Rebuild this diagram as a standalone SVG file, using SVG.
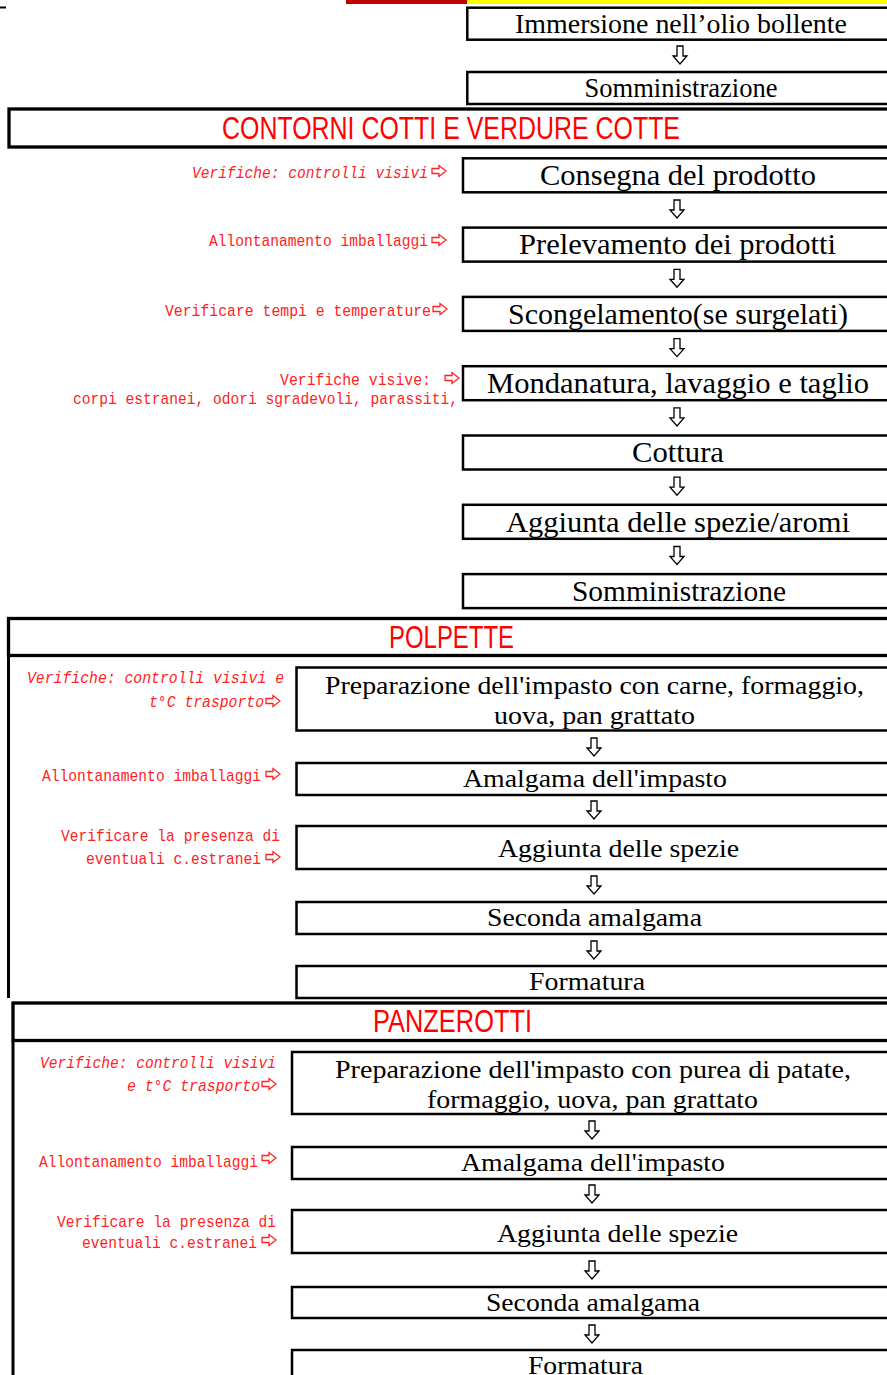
<svg xmlns="http://www.w3.org/2000/svg" xmlns:xlink="http://www.w3.org/1999/xlink" width="887" height="1375" viewBox="0 0 887 1375">
<style>
.box{fill:#fff;stroke:#000;stroke-width:2.5}
.hdr{fill:none;stroke:#000;stroke-width:3.3}
.vl{stroke:#000;stroke-width:3}
.t{font-family:"Liberation Serif","Times New Roman",serif;fill:#000;text-anchor:middle}
.s1{font-size:27px}.s2{font-size:29px}.s3{font-size:26px}
.h{font-family:"Liberation Sans",Arial,sans-serif;fill:#f00;text-anchor:middle;font-size:31px}
.l{font-family:"Liberation Mono","DejaVu Sans Mono",monospace;fill:#f22;font-size:17px}
.i{font-style:italic}
</style>
<defs>
<path id="da" d="M-3,0H3V10H7L0,18L-7,10H-3Z" fill="#fff" stroke="#000" stroke-width="1.3"/>
<path id="ra" d="M0,-2.5H7V-5.5L14,0L7,5.5V2.5H0Z" fill="#fff" stroke="#f22" stroke-width="1.3"/>
</defs>
<rect x="346" y="0" width="121" height="4" fill="#c00000"/>
<rect x="467" y="0" width="420" height="4" fill="#ffff00"/>
<rect x="0" y="6.5" width="6" height="2" fill="#000"/>

<g id="sec1">
<g id="n-immersione"><rect class="box" x="467.3" y="7.7" width="440" height="32"/><text class="t s1" x="681" y="33" textLength="332" lengthAdjust="spacingAndGlyphs">Immersione nell’olio bollente</text></g>
<g id="n-somm1"><rect class="box" x="467.3" y="72" width="440" height="32"/><text class="t s1" x="681" y="97" textLength="193" lengthAdjust="spacingAndGlyphs">Somministrazione</text></g>
</g>

<g id="h-contorni"><rect class="hdr" x="9" y="109" width="900" height="38"/><text class="h" x="451" y="139" textLength="458" lengthAdjust="spacingAndGlyphs">CONTORNI COTTI E VERDURE COTTE</text></g>

<g id="sec2">
<g id="n-consegna"><rect class="box" x="463" y="158.3" width="440" height="34"/><text class="t s2" x="678" y="185" textLength="276" lengthAdjust="spacingAndGlyphs">Consegna del prodotto</text></g>
<g id="n-prelevamento"><rect class="box" x="463" y="227.6" width="440" height="34"/><text class="t s2" x="677.5" y="254.3" textLength="317" lengthAdjust="spacingAndGlyphs">Prelevamento dei prodotti</text></g>
<g id="n-scongelamento"><rect class="box" x="463" y="296.9" width="440" height="34"/><text class="t s2" x="678" y="323.6" textLength="340" lengthAdjust="spacingAndGlyphs">Scongelamento(se surgelati)</text></g>
<g id="n-mondanatura"><rect class="box" x="463" y="366.2" width="440" height="34"/><text class="t s2" x="678" y="392.9" textLength="382" lengthAdjust="spacingAndGlyphs">Mondanatura, lavaggio e taglio</text></g>
<g id="n-cottura"><rect class="box" x="463" y="435.5" width="440" height="34"/><text class="t s2" x="678" y="462.2" textLength="92" lengthAdjust="spacingAndGlyphs">Cottura</text></g>
<g id="n-aggiunta1"><rect class="box" x="463" y="504.8" width="440" height="34"/><text class="t s2" x="678" y="531.5" textLength="344" lengthAdjust="spacingAndGlyphs">Aggiunta delle spezie/aromi</text></g>
<g id="n-somm2"><rect class="box" x="463" y="574.1" width="440" height="34"/><text class="t s2" x="679" y="600.8" textLength="214" lengthAdjust="spacingAndGlyphs">Somministrazione</text></g>
<g id="lab2">
<text class="l i" x="192" y="178" textLength="236" lengthAdjust="spacingAndGlyphs">Verifiche: controlli visivi</text>
<text class="l" x="209" y="246" textLength="219" lengthAdjust="spacingAndGlyphs">Allontanamento imballaggi</text>
<text class="l" x="165" y="316" textLength="266" lengthAdjust="spacingAndGlyphs">Verificare tempi e temperature</text>
<text class="l" x="280" y="385" textLength="151" lengthAdjust="spacingAndGlyphs">Verifiche visive:</text>
<text class="l" x="73" y="404" textLength="385" lengthAdjust="spacingAndGlyphs">corpi estranei, odori sgradevoli, parassiti,</text>
</g>
</g>

<g id="h-polpette"><rect class="hdr" x="8.5" y="618.5" width="900" height="37"/><line class="vl" x1="8.5" y1="657" x2="8.5" y2="998"/><text class="h" x="451.5" y="648" textLength="125" lengthAdjust="spacingAndGlyphs">POLPETTE</text></g>

<g id="sec3">
<g id="n-prep1"><rect class="box" x="296.5" y="667.5" width="610" height="63"/><text class="t s3" x="594.5" y="694" textLength="539" lengthAdjust="spacingAndGlyphs">Preparazione dell'impasto con carne, formaggio,</text><text class="t s3" x="594.5" y="724" textLength="201" lengthAdjust="spacingAndGlyphs">uova, pan grattato</text></g>
<g id="n-amalg1"><rect class="box" x="296.5" y="763" width="610" height="32"/><text class="t s3" x="595" y="787" textLength="264" lengthAdjust="spacingAndGlyphs">Amalgama dell'impasto</text></g>
<g id="n-spezie1"><rect class="box" x="296.5" y="826" width="610" height="43"/><text class="t s3" x="618.5" y="857" textLength="241" lengthAdjust="spacingAndGlyphs">Aggiunta delle spezie</text></g>
<g id="n-seconda1"><rect class="box" x="296.5" y="902" width="610" height="32"/><text class="t s3" x="594.5" y="926" textLength="215" lengthAdjust="spacingAndGlyphs">Seconda amalgama</text></g>
<g id="n-form1"><rect class="box" x="296.5" y="966" width="610" height="32"/><text class="t s3" x="587" y="990" textLength="116" lengthAdjust="spacingAndGlyphs">Formatura</text></g>
<g id="lab3">
<text class="l i" x="27" y="683" textLength="257" lengthAdjust="spacingAndGlyphs">Verifiche: controlli visivi e</text>
<text class="l i" x="149" y="707" textLength="115" lengthAdjust="spacingAndGlyphs">t°C trasporto</text>
<text class="l" x="42" y="781" textLength="219" lengthAdjust="spacingAndGlyphs">Allontanamento imballaggi</text>
<text class="l" x="61" y="841" textLength="219" lengthAdjust="spacingAndGlyphs">Verificare la presenza di</text>
<text class="l" x="86" y="864" textLength="175" lengthAdjust="spacingAndGlyphs">eventuali c.estranei</text>
</g>
</g>

<g id="h-panzerotti"><rect class="hdr" x="13" y="1003" width="900" height="37.5"/><line class="vl" x1="13" y1="1041" x2="13" y2="1380"/><text class="h" x="452.5" y="1032" textLength="159" lengthAdjust="spacingAndGlyphs">PANZEROTTI</text></g>

<g id="sec4">
<g id="n-prep2"><rect class="box" x="292" y="1052" width="610" height="62"/><text class="t s3" x="593" y="1078" textLength="516" lengthAdjust="spacingAndGlyphs">Preparazione dell'impasto con purea di patate,</text><text class="t s3" x="592.5" y="1108" textLength="331" lengthAdjust="spacingAndGlyphs">formaggio, uova, pan grattato</text></g>
<g id="n-amalg2"><rect class="box" x="292" y="1147" width="610" height="32"/><text class="t s3" x="593" y="1171" textLength="264" lengthAdjust="spacingAndGlyphs">Amalgama dell'impasto</text></g>
<g id="n-spezie2"><rect class="box" x="292" y="1210" width="610" height="43"/><text class="t s3" x="617.5" y="1242" textLength="241" lengthAdjust="spacingAndGlyphs">Aggiunta delle spezie</text></g>
<g id="n-seconda2"><rect class="box" x="292" y="1287" width="610" height="31"/><text class="t s3" x="593" y="1311" textLength="214" lengthAdjust="spacingAndGlyphs">Seconda amalgama</text></g>
<g id="n-form2"><rect class="box" x="292" y="1350" width="610" height="40"/><text class="t s3" x="585.5" y="1374" textLength="115" lengthAdjust="spacingAndGlyphs">Formatura</text></g>
<g id="lab4">
<text class="l i" x="40" y="1068" textLength="236" lengthAdjust="spacingAndGlyphs">Verifiche: controlli visivi</text>
<text class="l i" x="127" y="1091" textLength="133" lengthAdjust="spacingAndGlyphs">e t°C trasporto</text>
<text class="l" x="39" y="1167" textLength="219" lengthAdjust="spacingAndGlyphs">Allontanamento imballaggi</text>
<text class="l" x="57" y="1227" textLength="219" lengthAdjust="spacingAndGlyphs">Verificare la presenza di</text>
<text class="l" x="82" y="1248" textLength="175" lengthAdjust="spacingAndGlyphs">eventuali c.estranei</text>
</g>
</g>

<g id="connectors">
<use href="#da" x="680" y="46"/>
<use href="#da" x="677" y="200"/>
<use href="#da" x="677" y="269.3"/>
<use href="#da" x="677" y="338.6"/>
<use href="#da" x="677" y="407.9"/>
<use href="#da" x="677" y="477.2"/>
<use href="#da" x="677" y="546.5"/>
<use href="#da" x="594" y="738"/>
<use href="#da" x="594" y="801"/>
<use href="#da" x="594" y="876"/>
<use href="#da" x="594" y="941"/>
<use href="#da" x="592" y="1121"/>
<use href="#da" x="592" y="1185"/>
<use href="#da" x="592" y="1261"/>
<use href="#da" x="592" y="1325"/>
<use href="#ra" x="432" y="171"/>
<use href="#ra" x="432" y="240"/>
<use href="#ra" x="433" y="309"/>
<use href="#ra" x="445" y="378"/>
<use href="#ra" x="266" y="701"/>
<use href="#ra" x="266" y="774"/>
<use href="#ra" x="266" y="857"/>
<use href="#ra" x="262" y="1084"/>
<use href="#ra" x="262" y="1158"/>
<use href="#ra" x="262" y="1240"/>
</g>
</svg>
